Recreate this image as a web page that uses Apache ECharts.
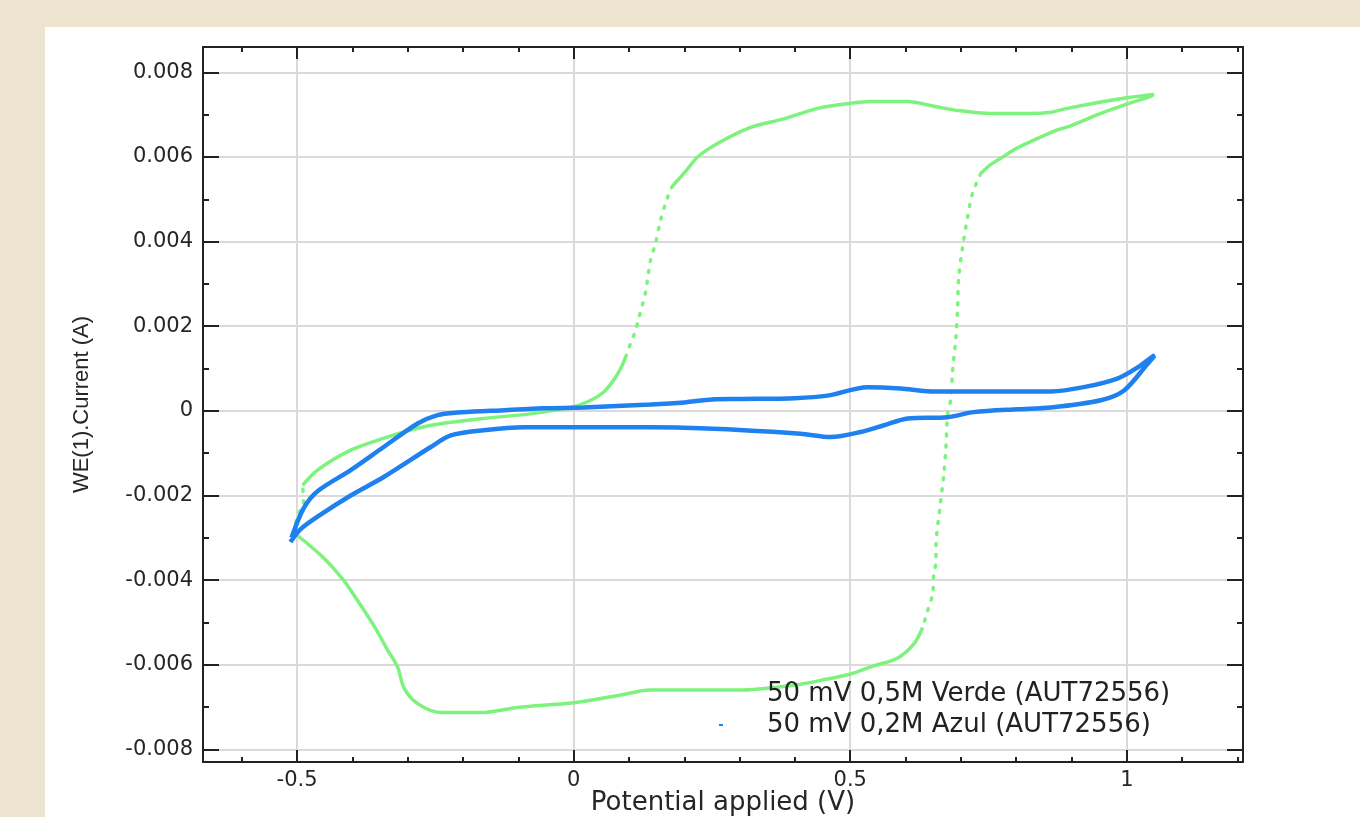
<!DOCTYPE html>
<html>
<head>
<meta charset="utf-8">
<script src="https://cdn.jsdelivr.net/npm/echarts@6/dist/echarts.min.js"></script>
<style>
  html, body { margin: 0; padding: 0; background: #ede4d0; }
  #panel { position: absolute; left: 45px; top: 27px; width: 1315px; height: 790px; background: #fff; }
  #main { position: absolute; left: 0; top: 0; width: 1360px; height: 817px; }
</style>
</head>
<body>
<div id="panel"></div>
<div id="main"></div>
<script>
// series names
var nameGreen = '50 mV 0,5M Verde (AUT72556)';
var nameBlue = '50 mV 0,2M Azul (AUT72556)';

// 0,5M green loop, split where the points spread out
var greenUpper = [
  [-0.49, -0.00176], [-0.463, -0.0014], [-0.403, -0.00093], [-0.344, -0.00065],
  [-0.282, -0.00041], [-0.222, -0.00027], [-0.163, -0.00018], [-0.072, -0.00006],
  [0.0, 0.0001], [0.031, 0.00025], [0.054, 0.00044], [0.072, 0.00072],
  [0.085, 0.001], [0.094, 0.00127]
];
var greenRise = [
  [0.094, 0.00127], [0.103, 0.0016], [0.112, 0.0019], [0.118, 0.0022],
  [0.125, 0.00254], [0.13, 0.0028], [0.139, 0.00356], [0.148, 0.00396],
  [0.157, 0.0045], [0.17, 0.00505], [0.178, 0.0053]
];
var greenTop = [
  [0.178, 0.0053], [0.188, 0.00545], [0.205, 0.0057], [0.224, 0.006],
  [0.26, 0.00632], [0.32, 0.0067], [0.38, 0.0069], [0.441, 0.00715],
  [0.501, 0.00727], [0.537, 0.00731], [0.604, 0.00731], [0.651, 0.0072],
  [0.694, 0.0071], [0.754, 0.00703], [0.826, 0.00703], [0.863, 0.00706],
  [0.893, 0.00715], [0.953, 0.0073], [1.0, 0.0074], [1.049, 0.00748],
  [1.038, 0.00741], [1.0, 0.00725], [0.953, 0.00703], [0.893, 0.00671],
  [0.87, 0.00662], [0.832, 0.0064], [0.8, 0.0062], [0.772, 0.00597],
  [0.752, 0.0058], [0.736, 0.00561]
];
var greenFall = [
  [0.736, 0.00561], [0.721, 0.00514], [0.712, 0.00457], [0.703, 0.00386],
  [0.696, 0.00315], [0.694, 0.00242], [0.691, 0.00174], [0.685, 0.00095],
  [0.682, 0.0003], [0.676, -0.0001], [0.673, -0.00086], [0.669, -0.00152],
  [0.662, -0.0023], [0.655, -0.00322], [0.655, -0.00358], [0.651, -0.00385],
  [0.649, -0.00432], [0.64, -0.00472], [0.631, -0.00512]
];
var greenLower = [
  [0.631, -0.00512], [0.615, -0.00551], [0.586, -0.00584], [0.542, -0.00603],
  [0.501, -0.00622], [0.447, -0.00637], [0.4, -0.00648], [0.3, -0.0066],
  [0.2, -0.0066], [0.139, -0.0066], [0.08, -0.00673], [0.0, -0.0069],
  [-0.101, -0.00701], [-0.168, -0.00713], [-0.24, -0.00713], [-0.282, -0.00692],
  [-0.307, -0.00654], [-0.318, -0.00606], [-0.336, -0.00566], [-0.36, -0.0051],
  [-0.4, -0.0043], [-0.416, -0.004], [-0.45, -0.0035], [-0.494, -0.003],
  [-0.506, -0.0029]
];
var greenTip = [
  [-0.506, -0.0029], [-0.503, -0.00266], [-0.497, -0.00242], [-0.488, -0.00219],
  [-0.49, -0.00176]
];

// 0,2M blue loop
var blueLoop = [
  [-0.51, -0.003], [-0.488, -0.0023], [-0.463, -0.0019], [-0.403, -0.0014],
  [-0.344, -0.00086], [-0.282, -0.0003], [-0.246, -0.0001], [-0.21, -0.00004],
  [-0.15, 0.0], [-0.054, 0.00006], [0.018, 0.00008], [0.139, 0.00015],
  [0.2, 0.0002], [0.25, 0.00027], [0.3, 0.00028], [0.4, 0.0003],
  [0.459, 0.00036], [0.531, 0.00056], [0.591, 0.00053], [0.646, 0.00046],
  [0.712, 0.00046], [0.863, 0.00046], [0.922, 0.00056], [0.984, 0.00077],
  [1.02, 0.00103], [1.047, 0.00129], [1.05, 0.0013],
  [1.038, 0.00112], [0.995, 0.00048], [0.953, 0.00025], [0.863, 0.00008],
  [0.803, 0.00004], [0.723, -0.00003], [0.676, -0.00015], [0.604, -0.00018],
  [0.561, -0.00034], [0.519, -0.0005], [0.465, -0.00062], [0.41, -0.00054],
  [0.3, -0.00045], [0.2, -0.0004], [0.139, -0.00039], [-0.09, -0.00039],
  [-0.163, -0.00046], [-0.222, -0.00058], [-0.259, -0.00086], [-0.344, -0.00157],
  [-0.403, -0.002], [-0.463, -0.0025], [-0.494, -0.0028], [-0.512, -0.0031]
];

// axis ranges
var xRange = [-0.67, 1.21];
var yRange = [-0.0083, 0.0086];
var xStep = 0.5;
var yStep = 0.002;

var green = '#7df27d';
var blue = '#1f80ef';
var ink = '#222';

function axisBase(range, step, tickLen, minorLen, minorSplit) {
  return {
    type: 'value',
    min: range[0],
    max: range[1],
    minInterval: step,
    maxInterval: step,
    axisLine: { show: true, onZero: false, lineStyle: { color: ink, width: 2 } },
    axisTick: { show: true, inside: true, length: tickLen, lineStyle: { color: ink, width: 2 } },
    minorTick: { show: true, splitNumber: minorSplit, length: minorLen, lineStyle: { color: ink, width: 2 } },
    splitLine: { show: false },
    axisLabel: { show: false }
  };
}

var xMain = axisBase(xRange, xStep, 12, 5, 5);
xMain.position = 'bottom';
xMain.splitLine = { show: true, lineStyle: { color: '#dadada', width: 2 } };
xMain.axisLabel = {
  show: true, margin: 8, color: '#262626', fontSize: 21, fontFamily: 'DejaVu Sans',
  showMinLabel: false, showMaxLabel: false
};
xMain.name = 'Potential applied (V)';
xMain.nameLocation = 'middle';
xMain.nameGap = 28;
xMain.nameMoveOverlap = false;
xMain.nameTextStyle = { fontSize: 26, fontFamily: 'DejaVu Sans', color: '#262626' };

var xTop = axisBase(xRange, xStep, 12, 5, 5);
xTop.position = 'top';

var yMain = axisBase(yRange, yStep, 16, 6, 2);
yMain.position = 'left';
yMain.splitLine = { show: true, lineStyle: { color: '#dadada', width: 2 } };
yMain.axisLabel = {
  show: true, margin: 10, color: '#262626', fontSize: 21, fontFamily: 'DejaVu Sans',
  showMinLabel: false, showMaxLabel: false
};
yMain.name = 'WE(1).Current (A)';
yMain.nameLocation = 'middle';
yMain.nameGap = 110;
yMain.nameMoveOverlap = false;
yMain.nameTextStyle = { fontSize: 22, fontFamily: 'Liberation Sans', color: '#262626' };

var yRight = axisBase(yRange, yStep, 16, 6, 2);
yRight.position = 'right';

function greenPart(data, dotted) {
  return {
    name: nameGreen,
    type: 'line',
    data: data,
    showSymbol: false,
    smooth: 0.3,
    color: green,
    lineStyle: dotted
      ? { color: green, width: 3.5, type: [2, 9], cap: 'round' }
      : { color: green, width: 3.5 },
    z: 3
  };
}

var chart = echarts.init(document.getElementById('main'));
chart.setOption({
  animation: false,
  grid: { left: 203, right: 117, top: 47, bottom: 55, outerBoundsMode: 'none' },
  xAxis: [xMain, xTop],
  yAxis: [yMain, yRight],
  legend: {
    orient: 'vertical',
    left: 719,
    top: 681,
    padding: 0,
    itemGap: 5,
    itemWidth: 4,
    itemHeight: 2,
    icon: 'rect',
    selectedMode: false,
    textStyle: { fontSize: 26, lineHeight: 26, fontFamily: 'DejaVu Sans', color: '#222', padding: [0, 0, 0, 39] },
    data: [
      { name: nameGreen, itemStyle: { opacity: 0 } },
      { name: nameBlue }
    ]
  },
  series: [
    greenPart(greenUpper, false),
    greenPart(greenRise, true),
    greenPart(greenTop, false),
    greenPart(greenFall, true),
    greenPart(greenLower, false),
    greenPart(greenTip, true),
    {
      name: nameBlue,
      type: 'line',
      data: blueLoop,
      showSymbol: false,
      smooth: 0.3,
      color: blue,
      lineStyle: { color: blue, width: 4.5 },
      z: 4
    }
  ]
});
</script>
</body>
</html>
